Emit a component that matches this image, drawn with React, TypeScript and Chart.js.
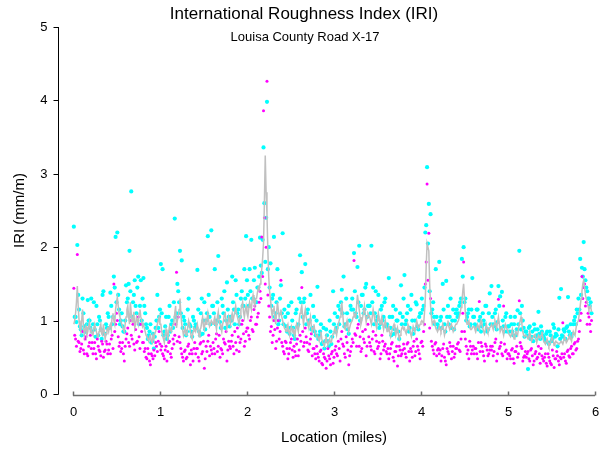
import React, { useEffect, useRef } from "react";
import { Chart, registerables } from "chart.js";

Chart.register(...registerables);

const TITLE = "International Roughness Index (IRI)";
const SUBTITLE = "Louisa County Road X-17";
const X_TITLE = "Location (miles)";
const Y_TITLE = "IRI (mm/m)";
const X_TICKS = [0, 1, 2, 3, 4, 5, 6];
const Y_TICKS = [0, 1, 2, 3, 4, 5];

// Readings every 0.01 mile, stored as two interleaved runs (0.01, 0.03, ... and 0.02, 0.04, ...)
const ODD_START = 0.01;
const EVEN_START = 0.02;
const RUN_STEP = 0.02;

const IRI_CYAN_ODD = [
  2.28, 1.05, 2.03, 1.15, 0.88, 1.30, 0.92, 0.85, 1.28, 1.00,
  1.30, 0.95, 0.88, 1.20, 0.80, 1.00, 0.75, 1.40, 0.82, 0.90,
  1.05, 1.38, 0.95, 1.60, 2.14, 2.20, 1.15, 1.00, 0.92, 0.85,
  1.48, 1.30, 1.95, 2.76, 1.25, 1.55, 1.10, 1.60, 1.20, 1.00,
  1.58, 1.10, 0.90, 0.80, 0.95, 0.72, 0.62, 0.90, 1.35, 1.05,
  1.77, 1.70, 0.85, 1.05, 0.80, 1.20, 0.95, 0.90, 2.39, 1.10,
  1.40, 1.95, 1.82, 1.05, 0.95, 0.85, 1.30, 0.92, 0.78, 1.00,
  0.95, 1.69, 0.85, 1.10, 0.82, 1.25, 1.00, 2.15, 1.05, 2.23,
  1.20, 1.70, 1.00, 1.88, 0.98, 1.30, 1.10, 0.90, 1.52, 1.05,
  1.05, 1.60, 1.15, 1.55, 1.10, 0.95, 1.30, 1.20, 1.70, 2.15,
  1.35, 1.70, 2.10, 1.30, 1.72, 1.25, 1.45, 2.13, 1.65, 3.36,
  1.80, 3.98, 2.00, 1.78, 1.30, 2.14, 1.10, 1.70, 1.00, 1.48,
  2.19, 1.15, 0.92, 1.10, 0.82, 1.25, 0.90, 0.75, 1.15, 0.95,
  1.89, 1.66, 1.25, 1.77, 1.10, 1.00, 1.35, 0.90, 1.05, 0.80,
  1.46, 0.80, 0.95, 0.70, 0.62, 0.88, 0.72, 1.00, 0.68, 1.40,
  1.10, 0.90, 1.20, 1.15, 1.42, 1.60, 0.95, 1.10, 0.82, 1.20,
  1.30, 1.92, 1.10, 1.73, 2.02, 1.20, 1.35, 1.15, 1.50, 1.20,
  1.20, 2.02, 1.45, 1.10, 1.00, 1.35, 0.95, 1.20, 1.05, 1.30,
  0.95, 1.58, 0.90, 1.05, 0.82, 1.15, 1.00, 0.75, 1.48, 1.05,
  1.62, 1.00, 1.20, 0.90, 1.35, 0.82, 1.00, 1.22, 0.88, 1.10,
  1.30, 1.20, 2.20, 3.09, 2.59, 2.45, 1.15, 1.05, 1.70, 0.95,
  1.80, 1.05, 1.50, 0.95, 1.54, 1.20, 1.05, 0.90, 1.15, 1.00,
  1.15, 1.10, 1.25, 1.84, 2.00, 1.30, 1.05, 1.15, 0.95, 1.58,
  1.05, 0.92, 1.15, 1.00, 0.85, 1.10, 0.95, 1.20, 0.88, 1.37,
  1.47, 0.95, 1.10, 0.88, 1.47, 1.33, 1.39, 0.92, 1.05, 0.85,
  0.92, 1.05, 0.85, 0.95, 0.80, 1.14, 1.95, 0.88, 1.00, 0.78,
  0.85, 0.34, 0.92, 0.78, 0.72, 0.88, 0.80, 1.12, 0.75, 0.85,
  0.78, 0.72, 0.85, 0.68, 0.80, 0.75, 0.90, 0.82, 0.65, 1.31,
  1.43, 0.78, 0.85, 0.90, 1.32, 0.80, 0.78, 0.95, 1.05, 1.15,
  1.30, 1.84, 1.72, 2.07, 1.55, 1.40, 1.30, 1.25,
];

const IRI_CYAN_EVEN = [
  1.05, 0.98, 1.35, 0.92, 0.80, 1.10, 0.85, 0.95, 1.00, 0.90,
  0.85, 1.25, 0.78, 0.95, 1.05, 0.88, 1.35, 0.82, 0.95, 1.10,
  0.90, 1.20, 1.05, 1.45, 1.25, 1.35, 0.95, 1.10, 0.85, 1.00,
  1.25, 1.50, 1.40, 1.05, 1.35, 1.20, 1.45, 0.95, 1.55, 1.30,
  1.20, 0.95, 0.75, 0.85, 0.70, 0.82, 0.78, 1.00, 0.90, 1.15,
  1.10, 0.80, 0.92, 0.75, 1.05, 0.85, 1.00, 1.25, 1.05, 1.50,
  1.25, 1.10, 0.90, 1.00, 0.80, 1.15, 0.95, 0.85, 1.05, 0.90,
  0.90, 1.15, 0.80, 1.30, 1.00, 0.88, 1.10, 1.35, 0.95, 1.20,
  1.10, 0.95, 1.25, 1.05, 0.90, 1.20, 1.40, 1.00, 1.15, 0.92,
  1.00, 1.25, 0.95, 1.35, 1.15, 1.05, 1.40, 1.20, 1.30, 1.55,
  1.20, 1.40, 1.30, 1.55, 1.25, 1.45, 1.60, 1.75, 2.10, 2.60,
  2.40, 1.70, 1.45, 1.20, 1.35, 1.05, 1.25, 0.95, 1.30, 1.10,
  0.95, 1.05, 0.85, 1.20, 0.90, 1.00, 0.80, 1.10, 0.92, 1.30,
  1.25, 1.05, 1.30, 0.95, 1.15, 1.00, 0.88, 1.20, 0.85, 1.00,
  0.75, 0.85, 0.68, 0.90, 0.72, 0.80, 0.65, 0.85, 0.78, 0.95,
  0.85, 1.05, 0.95, 1.25, 1.10, 0.92, 1.30, 0.88, 1.00, 1.15,
  1.15, 1.40, 1.05, 1.25, 1.00, 1.35, 1.10, 1.45, 1.05, 1.20,
  1.10, 1.25, 0.95, 1.40, 1.05, 0.90, 1.15, 1.00, 1.25, 0.92,
  0.90, 1.05, 0.80, 1.20, 0.88, 1.00, 0.85, 1.10, 0.95, 1.30,
  0.95, 1.10, 0.85, 1.15, 1.00, 0.88, 1.25, 0.92, 1.05, 1.10,
  1.15, 1.45, 2.30, 2.05, 1.40, 1.10, 1.25, 0.95, 1.05, 0.90,
  1.00, 0.90, 1.15, 0.85, 1.05, 0.95, 1.30, 1.00, 0.88, 1.10,
  1.05, 1.20, 1.30, 1.60, 1.25, 1.00, 1.10, 0.92, 1.15, 1.05,
  0.95, 1.15, 0.88, 1.05, 0.92, 1.00, 1.20, 0.85, 1.10, 0.95,
  1.05, 0.92, 1.15, 0.98, 1.20, 0.90, 1.00, 0.85, 1.10, 0.92,
  0.85, 0.95, 0.80, 1.05, 0.88, 0.95, 1.10, 1.20, 0.90, 0.85,
  0.80, 0.90, 0.75, 0.85, 0.95, 0.78, 0.88, 0.82, 0.92, 0.80,
  0.75, 0.82, 0.70, 0.85, 0.72, 0.95, 0.78, 0.80, 0.88, 0.75,
  0.80, 0.88, 0.75, 0.92, 0.85, 0.95, 0.82, 1.00, 0.95, 1.10,
  1.15, 1.35, 1.60, 1.70, 1.45, 1.30, 1.20, 1.10,
];

const IRI_MAGENTA_ODD = [
  1.44, 0.75, 1.90, 0.70, 0.62, 0.85, 0.55, 0.78, 0.52, 0.70,
  0.62, 0.55, 0.70, 0.48, 0.65, 0.58, 0.72, 0.50, 0.60, 0.68,
  0.60, 0.55, 0.80, 1.50, 0.95, 1.00, 0.65, 0.58, 0.70, 0.45,
  0.75, 0.90, 0.65, 0.80, 0.95, 0.60, 0.70, 1.05, 0.62, 0.85,
  0.70, 0.62, 0.48, 0.55, 0.40, 0.52, 0.60, 0.70, 0.58, 0.85,
  0.60, 0.55, 0.48, 0.65, 0.58, 0.72, 0.50, 0.75, 0.80, 1.66,
  1.05, 0.70, 0.55, 0.45, 0.60, 0.50, 0.68, 0.40, 0.55, 0.62,
  0.55, 0.62, 0.45, 0.70, 0.58, 0.35, 0.65, 0.72, 0.52, 0.60,
  0.70, 0.55, 0.82, 0.65, 0.50, 0.60, 0.75, 0.68, 0.45, 0.72,
  0.62, 0.80, 0.55, 0.70, 0.90, 0.58, 0.75, 1.00, 0.65, 0.85,
  0.90, 0.75, 1.05, 0.85, 1.20, 0.95, 1.10, 1.40, 2.14, 3.86,
  1.50, 4.26, 1.20, 0.85, 0.70, 1.00, 0.62, 0.90, 0.75, 1.55,
  0.65, 0.55, 0.70, 0.48, 0.62, 0.75, 0.50, 0.58, 0.68, 0.52,
  0.80, 1.45, 0.65, 0.90, 0.70, 0.58, 0.75, 0.52, 0.62, 0.48,
  0.55, 0.45, 0.60, 0.40, 0.50, 0.35, 0.62, 0.48, 0.55, 0.42,
  0.60, 0.55, 0.72, 0.45, 0.85, 0.65, 0.50, 0.70, 0.40, 0.58,
  0.75, 1.82, 0.80, 0.90, 0.65, 0.58, 0.85, 0.70, 0.52, 0.95,
  0.70, 0.60, 0.85, 0.55, 0.72, 0.65, 0.48, 0.80, 0.60, 0.68,
  0.55, 0.48, 0.62, 0.70, 0.45, 0.58, 0.38, 0.65, 0.52, 0.60,
  0.62, 0.50, 0.70, 0.45, 0.58, 0.65, 0.52, 0.75, 0.60, 0.48,
  0.72, 0.85, 1.50, 2.86, 2.19, 1.30, 0.65, 0.55, 0.70, 0.60,
  0.55, 0.45, 0.62, 0.50, 0.40, 0.58, 0.70, 0.48, 0.65, 0.55,
  0.62, 0.70, 0.58, 0.85, 1.80, 0.75, 0.55, 0.48, 0.65, 0.60,
  0.55, 0.62, 0.48, 1.26, 0.70, 0.58, 0.45, 0.65, 0.52, 0.60,
  0.60, 0.52, 0.70, 0.45, 1.29, 0.65, 0.55, 1.20, 0.58, 0.48,
  0.55, 0.48, 0.62, 0.42, 0.58, 0.50, 1.27, 0.65, 0.45, 0.52,
  0.50, 0.58, 0.45, 0.62, 0.40, 0.55, 0.48, 0.65, 0.42, 0.52,
  0.45, 0.55, 0.38, 0.50, 0.42, 0.60, 0.36, 0.48, 0.52, 0.40,
  0.48, 0.97, 0.55, 0.42, 0.60, 0.50, 0.65, 0.55, 0.70, 0.62,
  0.75, 1.00, 1.60, 1.45, 1.20, 0.95, 1.05, 0.85,
];

const IRI_MAGENTA_EVEN = [
  0.80, 0.65, 0.72, 0.58, 0.68, 0.60, 0.75, 0.55, 0.65, 0.80,
  0.70, 0.62, 0.55, 0.75, 0.60, 0.52, 0.68, 0.58, 0.72, 0.55,
  0.68, 0.75, 0.62, 0.85, 1.10, 0.78, 0.70, 0.62, 0.55, 0.65,
  0.82, 0.70, 1.00, 0.75, 0.68, 0.88, 0.72, 0.78, 0.95, 0.70,
  0.58, 0.50, 0.62, 0.45, 0.55, 0.48, 0.52, 0.65, 0.72, 0.68,
  0.65, 0.52, 0.60, 0.45, 0.70, 0.55, 0.62, 0.68, 0.95, 0.72,
  0.78, 0.62, 0.50, 0.58, 0.48, 0.65, 0.55, 0.60, 0.45, 0.70,
  0.62, 0.50, 0.68, 0.55, 0.72, 0.48, 0.58, 0.80, 0.65, 0.55,
  0.62, 0.75, 0.58, 0.80, 0.62, 0.55, 0.70, 0.85, 0.60, 0.65,
  0.72, 0.65, 0.85, 0.60, 0.78, 0.70, 0.95, 0.82, 0.72, 0.90,
  0.80, 1.00, 0.88, 1.15, 0.95, 1.05, 1.25, 1.30, 1.60, 2.40,
  2.00, 1.35, 1.05, 0.92, 0.80, 0.88, 0.72, 1.00, 0.85, 0.70,
  0.58, 0.72, 0.62, 0.55, 0.70, 0.60, 0.65, 0.52, 0.75, 0.60,
  0.72, 0.85, 0.70, 0.78, 0.60, 0.68, 0.82, 0.62, 0.55, 0.65,
  0.50, 0.58, 0.42, 0.55, 0.48, 0.45, 0.52, 0.40, 0.58, 0.50,
  0.65, 0.52, 0.62, 0.75, 0.68, 0.55, 0.78, 0.60, 0.52, 0.65,
  0.70, 0.82, 0.65, 0.95, 0.78, 0.62, 0.75, 0.88, 0.65, 0.78,
  0.65, 0.75, 0.58, 0.80, 0.62, 0.70, 0.55, 0.72, 0.65, 0.58,
  0.62, 0.55, 0.68, 0.50, 0.58, 0.65, 0.52, 0.60, 0.55, 0.68,
  0.55, 0.68, 0.58, 0.62, 0.50, 0.72, 0.58, 0.65, 0.55, 0.70,
  0.65, 0.95, 1.80, 1.55, 0.90, 0.72, 0.60, 0.68, 0.52, 0.62,
  0.60, 0.52, 0.68, 0.45, 0.62, 0.55, 0.65, 0.58, 0.50, 0.62,
  0.68, 0.60, 0.75, 1.10, 0.85, 0.65, 0.60, 0.72, 0.55, 0.65,
  0.62, 0.55, 0.70, 0.58, 0.65, 0.52, 0.68, 0.60, 0.55, 0.65,
  0.65, 0.58, 0.75, 0.55, 0.62, 0.70, 0.52, 0.68, 0.60, 0.55,
  0.52, 0.60, 0.48, 0.58, 0.65, 0.55, 0.70, 0.62, 0.50, 0.58,
  0.55, 0.48, 0.60, 0.52, 0.45, 0.58, 0.50, 0.55, 0.62, 0.48,
  0.50, 0.42, 0.55, 0.45, 0.40, 0.52, 0.48, 0.58, 0.45, 0.50,
  0.55, 0.50, 0.45, 0.58, 0.52, 0.62, 0.55, 0.68, 0.60, 0.72,
  0.85, 1.10, 1.30, 1.50, 1.25, 1.10, 0.95, 1.00,
];

const IRI_AVERAGE_ODD = [
  0.95, 1.10, 1.47, 1.00, 0.85, 1.15, 0.80, 0.92, 0.85, 0.98,
  0.88, 0.80, 0.95, 0.85, 0.78, 0.90, 0.82, 0.95, 0.75, 0.88,
  0.85, 0.95, 1.05, 1.00, 1.15, 1.32, 1.10, 1.00, 0.92, 0.85,
  1.05, 1.20, 0.95, 1.10, 1.00, 0.90, 1.05, 0.95, 1.15, 1.00,
  0.95, 0.85, 0.78, 0.72, 0.80, 0.70, 0.75, 0.85, 0.95, 1.05,
  0.95, 0.80, 0.70, 0.88, 0.75, 0.92, 0.85, 0.95, 1.10, 0.90,
  1.05, 1.30, 0.95, 0.80, 0.90, 0.82, 1.00, 0.85, 0.75, 0.90,
  0.85, 0.95, 0.78, 0.90, 1.05, 0.88, 0.95, 1.10, 0.92, 1.00,
  0.95, 1.05, 0.88, 1.12, 0.95, 0.85, 1.00, 1.10, 0.90, 1.05,
  0.95, 1.10, 1.00, 1.20, 1.05, 0.95, 1.15, 1.25, 1.05, 1.20,
  1.05, 1.25, 1.15, 1.35, 1.20, 1.30, 1.45, 1.50, 1.70, 2.05,
  3.25, 2.45, 1.60, 1.30, 1.05, 1.20, 0.95, 1.25, 1.05, 1.15,
  1.00, 0.90, 0.85, 0.95, 0.80, 0.92, 0.88, 0.78, 0.95, 0.85,
  1.10, 1.20, 0.95, 1.15, 1.00, 0.90, 1.05, 0.85, 0.95, 0.80,
  0.80, 0.72, 0.85, 0.70, 0.65, 0.78, 0.68, 0.75, 0.70, 0.82,
  0.90, 0.80, 0.95, 1.05, 1.25, 0.95, 0.88, 1.00, 0.85, 0.95,
  1.00, 1.10, 1.05, 1.35, 1.15, 0.95, 1.05, 1.20, 0.98, 1.10,
  1.05, 0.95, 1.15, 1.00, 0.90, 1.10, 0.95, 1.05, 0.88, 1.00,
  0.85, 0.92, 0.78, 0.88, 0.95, 0.80, 0.90, 0.75, 0.85, 0.92,
  0.90, 0.82, 0.95, 0.88, 0.78, 0.92, 0.85, 1.00, 0.90, 0.95,
  1.00, 0.95, 1.30, 2.05, 1.95, 1.20, 0.95, 1.00, 0.90, 0.85,
  0.92, 0.85, 0.95, 0.80, 0.90, 1.00, 0.88, 0.95, 0.85, 0.92,
  0.95, 1.00, 1.10, 1.25, 1.50, 1.10, 0.95, 1.00, 0.88, 0.90,
  0.92, 0.85, 0.95, 0.88, 1.00, 0.90, 0.82, 0.95, 0.85, 0.90,
  0.95, 0.88, 1.00, 0.90, 1.05, 0.85, 0.92, 0.80, 0.95, 0.88,
  0.82, 0.78, 0.88, 0.75, 0.85, 0.80, 0.95, 1.05, 0.85, 0.78,
  0.80, 0.75, 0.85, 0.72, 0.78, 0.82, 0.70, 0.80, 0.76, 0.85,
  0.72, 0.68, 0.75, 0.65, 0.70, 0.78, 0.66, 0.72, 0.70, 0.68,
  0.72, 0.68, 0.78, 0.70, 0.75, 0.80, 0.72, 0.85, 0.80, 0.95,
  1.00, 1.20, 1.40, 1.55, 1.35, 1.25, 1.15, 1.20,
];

const IRI_AVERAGE_EVEN = [
  1.00, 1.25, 1.20, 0.90, 1.00, 0.95, 0.88, 0.80, 0.92, 0.85,
  0.82, 0.90, 0.88, 0.78, 0.85, 0.95, 0.80, 0.85, 0.82, 0.90,
  0.92, 0.88, 1.10, 0.95, 1.25, 1.20, 1.05, 0.95, 0.88, 0.95,
  1.15, 1.05, 1.25, 0.98, 1.12, 0.95, 1.00, 1.10, 1.05, 0.92,
  0.90, 0.80, 0.75, 0.78, 0.72, 0.80, 0.82, 0.90, 1.00, 0.95,
  0.85, 0.75, 0.80, 0.82, 0.85, 0.88, 0.90, 1.00, 1.20, 1.00,
  1.15, 1.10, 0.88, 0.85, 0.80, 0.92, 0.95, 0.78, 0.85, 0.88,
  0.90, 0.85, 0.88, 0.98, 0.92, 1.00, 1.02, 1.00, 0.95, 0.98,
  1.00, 0.95, 1.05, 1.00, 0.90, 0.95, 1.08, 0.98, 0.95, 1.00,
  1.05, 1.00, 1.12, 1.10, 1.00, 1.05, 1.20, 1.12, 1.15, 1.10,
  1.15, 1.20, 1.28, 1.25, 1.30, 1.38, 1.42, 1.60, 1.85, 2.60,
  2.75, 1.95, 1.40, 1.15, 1.15, 1.05, 1.10, 1.15, 1.10, 1.05,
  0.95, 0.88, 0.92, 0.85, 0.88, 0.85, 0.82, 0.88, 0.90, 1.00,
  1.15, 1.05, 1.08, 1.05, 0.95, 0.98, 0.92, 0.90, 0.85, 0.78,
  0.75, 0.78, 0.75, 0.68, 0.72, 0.70, 0.72, 0.70, 0.78, 0.85,
  0.85, 0.88, 1.00, 1.15, 1.10, 0.90, 0.95, 0.92, 0.90, 0.98,
  1.05, 1.08, 1.20, 1.25, 1.05, 1.00, 1.12, 1.08, 1.05, 1.08,
  1.00, 1.05, 1.08, 0.95, 1.00, 1.02, 1.00, 0.95, 0.95, 0.92,
  0.88, 0.85, 0.82, 0.92, 0.88, 0.85, 0.82, 0.80, 0.90, 0.88,
  0.85, 0.88, 0.92, 0.82, 0.85, 0.88, 0.92, 0.95, 0.92, 0.98,
  0.98, 1.10, 1.75, 2.05, 1.50, 1.05, 0.98, 0.95, 0.88, 0.88,
  0.88, 0.90, 0.88, 0.85, 0.95, 0.92, 0.92, 0.90, 0.88, 0.95,
  0.98, 1.05, 1.18, 1.40, 1.30, 1.00, 0.98, 0.92, 0.88, 0.92,
  0.88, 0.90, 0.92, 0.95, 0.95, 0.85, 0.88, 0.90, 0.88, 0.92,
  0.92, 0.95, 0.95, 0.98, 0.95, 0.88, 0.85, 0.88, 0.92, 0.85,
  0.80, 0.82, 0.80, 0.80, 0.82, 0.88, 1.00, 0.95, 0.80, 0.80,
  0.78, 0.80, 0.78, 0.75, 0.80, 0.75, 0.75, 0.78, 0.80, 0.78,
  0.70, 0.72, 0.70, 0.68, 0.75, 0.72, 0.70, 0.70, 0.68, 0.70,
  0.70, 0.72, 0.75, 0.72, 0.78, 0.75, 0.80, 0.82, 0.88, 0.98,
  1.10, 1.30, 1.50, 1.45, 1.30, 1.20, 1.18, 1.12,
];

const FONT = '"Liberation Sans", Arial, Helvetica, sans-serif';

function run(values: number[], start: number) {
  return values.map((v, i) => ({ x: +(start + i * RUN_STEP).toFixed(2), y: v }));
}

function merged(odd: number[], even: number[]) {
  return [...run(odd, ODD_START), ...run(even, EVEN_START)].sort((a, b) => a.x - b.x);
}

const axesPlugin = {
  id: "customAxes",
  afterDraw(chart: any) {
    const ctx = chart.ctx as CanvasRenderingContext2D;
    const xs = chart.scales.x;
    const ys = chart.scales.y;
    const area = chart.chartArea;
    ctx.save();

    const ax = Math.round(area.left) + 0.5;
    const yTop = ys.getPixelForValue(Y_TICKS[Y_TICKS.length - 1]);
    const yBot = ys.getPixelForValue(Y_TICKS[0]);
    ctx.strokeStyle = "#000000";
    ctx.lineWidth = 1;
    ctx.beginPath();
    ctx.moveTo(ax, Math.round(yTop));
    ctx.lineTo(ax, Math.round(yBot) + 0.5);
    ctx.stroke();
    ctx.fillStyle = "#000000";
    ctx.font = `13px ${FONT}`;
    ctx.textAlign = "right";
    ctx.textBaseline = "middle";
    Y_TICKS.forEach((v) => {
      const y = Math.round(ys.getPixelForValue(v)) + 0.5;
      ctx.beginPath();
      ctx.moveTo(ax - 5, y);
      ctx.lineTo(ax, y);
      ctx.stroke();
      ctx.fillText(String(v), ax - 11, y);
    });

    const y0 = Math.round(ys.getPixelForValue(0)) + 1.5;
    const x0 = xs.getPixelForValue(X_TICKS[0]);
    const x1 = xs.getPixelForValue(X_TICKS[X_TICKS.length - 1]);
    ctx.strokeStyle = "#6e6e6e";
    ctx.lineWidth = 1.5;
    ctx.beginPath();
    ctx.moveTo(x0, y0);
    ctx.lineTo(x1, y0);
    ctx.stroke();
    ctx.textAlign = "center";
    ctx.textBaseline = "middle";
    X_TICKS.forEach((v) => {
      const x = Math.round(xs.getPixelForValue(v)) + 0.5;
      ctx.beginPath();
      ctx.moveTo(x, y0);
      ctx.lineTo(x, y0 - 4);
      ctx.stroke();
      ctx.fillText(String(v), x, y0 + 17);
    });

    ctx.font = `15px ${FONT}`;
    ctx.fillText(X_TITLE, (x0 + x1) / 2, 438);
    ctx.save();
    ctx.translate(20, (yTop + yBot) / 2);
    ctx.rotate(-Math.PI / 2);
    ctx.fillText(Y_TITLE, 0, 0);
    ctx.restore();

    ctx.font = `17px ${FONT}`;
    ctx.fillText(TITLE, 304, 14);
    ctx.font = `13px ${FONT}`;
    ctx.fillText(SUBTITLE, 305, 37);

    ctx.restore();
  },
};

export default function App() {
  const canvasRef = useRef<HTMLCanvasElement | null>(null);

  useEffect(() => {
    const canvas = canvasRef.current;
    if (!canvas) return;
    const chart = new Chart(canvas, {
      type: "scatter",
      data: {
        datasets: [
          {
            label: "Average",
            data: merged(IRI_AVERAGE_ODD, IRI_AVERAGE_EVEN),
            showLine: true,
            borderColor: "#c0c0c0",
            borderWidth: 1.5,
            pointRadius: 0,
            order: 0,
          },
          {
            label: "Left",
            data: merged(IRI_MAGENTA_ODD, IRI_MAGENTA_EVEN),
            showLine: false,
            backgroundColor: "#ff00ff",
            borderColor: "#ff00ff",
            borderWidth: 0,
            pointRadius: 1.5,
            order: 1,
          },
          {
            label: "Right",
            data: merged(IRI_CYAN_ODD, IRI_CYAN_EVEN),
            showLine: false,
            backgroundColor: "#00ffff",
            borderColor: "#00ffff",
            borderWidth: 0,
            pointRadius: 2.1,
            order: 2,
          },
        ],
      },
      options: {
        animation: false,
        responsive: false,
        devicePixelRatio: 1,
        layout: { padding: { left: 58, top: 27, right: 13, bottom: 60 } },
        plugins: {
          legend: { display: false },
          tooltip: { enabled: false },
          title: { display: false },
        },
        scales: {
          x: { type: "linear", min: -0.172, max: 6, display: false },
          y: { type: "linear", min: 0, max: 5, display: false },
        },
      },
      plugins: [axesPlugin],
    });
    return () => chart.destroy();
  }, []);

  return (
    <div style={{ position: "fixed", left: 0, top: 0, width: 608, height: 454, background: "#ffffff" }}>
      <canvas ref={canvasRef} width={608} height={454} style={{ display: "block" }} />
    </div>
  );
}
